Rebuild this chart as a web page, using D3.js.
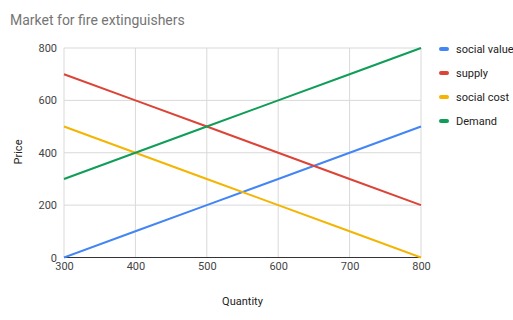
<!DOCTYPE html>
<html>
<head>
<meta charset="utf-8">
<script src="https://cdn.jsdelivr.net/npm/d3@7"></script>
<style>
  body { margin: 0; background: #fff; }
  text { font-family: Roboto, Arial, sans-serif; }
</style>
</head>
<body>
<div id="chart"></div>
<script>
// data
var quantity = [300, 400, 500, 600, 700, 800];
var socialValue = [0, 100, 200, 300, 400, 500];
var supply = [700, 600, 500, 400, 300, 200];
var socialCost = [500, 400, 300, 200, 100, 0];
var demand = [300, 400, 500, 600, 700, 800];
var seriesNames = ["social value", "supply", "social cost", "Demand"];
var seriesColors = ["#4285F4", "#DB4437", "#F4B400", "#0F9D58"];
var yTicks = [0, 200, 400, 600, 800];

var w = 513, h = 320;
var plotLeft = 64, plotRight = 421, plotTop = 48, plotBottom = 257.5;

var svg = d3.select("#chart").append("svg")
  .attr("width", w)
  .attr("height", h);

svg.append("rect").attr("width", w).attr("height", h).attr("fill", "#fff");

var x = d3.scaleLinear().domain([300, 800]).range([plotLeft, plotRight]);
var y = d3.scaleLinear().domain([0, 800]).range([plotBottom, plotTop]);

// gridlines
svg.append("g").selectAll("line")
  .data(yTicks.slice(1))
  .enter().append("line")
  .attr("x1", plotLeft).attr("x2", plotRight)
  .attr("y1", function(d) { return y(d); })
  .attr("y2", function(d) { return y(d); })
  .attr("stroke", "#d9d9d9").attr("stroke-width", 1);

svg.append("g").selectAll("line")
  .data(quantity)
  .enter().append("line")
  .attr("y1", plotTop).attr("y2", plotBottom)
  .attr("x1", function(d) { return x(d); })
  .attr("x2", function(d) { return x(d); })
  .attr("stroke", "#d9d9d9").attr("stroke-width", 1);

// baseline
svg.append("line")
  .attr("x1", plotLeft).attr("x2", plotRight)
  .attr("y1", y(0)).attr("y2", y(0))
  .attr("stroke", "#333").attr("stroke-width", 1);

// tick labels
var yAxis = d3.axisLeft(y).tickValues(yTicks).tickSize(0).tickPadding(6);
var gy = svg.append("g").attr("transform", "translate(" + (plotLeft - 1) + ",0)").call(yAxis);
gy.select(".domain").remove();
gy.selectAll("text").attr("font-size", 11).attr("fill", "#444").attr("font-family", "Roboto, Arial, sans-serif");

var xAxis = d3.axisBottom(x).tickValues(quantity).tickSize(0).tickPadding(5);
var gx = svg.append("g").attr("transform", "translate(0," + plotBottom + ")").call(xAxis);
gx.select(".domain").remove();
gx.selectAll("text").attr("font-size", 11).attr("fill", "#444").attr("font-family", "Roboto, Arial, sans-serif");

// lines
var allValues = [socialValue, supply, socialCost, demand];
var line = d3.line()
  .x(function(d, i) { return x(quantity[i]); })
  .y(function(d) { return y(d); });

allValues.forEach(function(vals, k) {
  svg.append("path")
    .datum(vals)
    .attr("d", line)
    .attr("fill", "none")
    .attr("stroke", seriesColors[k])
    .attr("stroke-width", 2);
});

// title and axis titles
svg.append("text")
  .attr("x", 10).attr("y", 25)
  .attr("font-size", 14).attr("fill", "#757575")
  .text("Market for fire extinguishers");

svg.append("text")
  .attr("x", (plotLeft + plotRight) / 2).attr("y", 305)
  .attr("text-anchor", "middle")
  .attr("font-size", 11).attr("fill", "#222")
  .text("Quantity");

svg.append("text")
  .attr("transform", "translate(22,152) rotate(-90)")
  .attr("text-anchor", "middle")
  .attr("font-size", 11).attr("fill", "#222")
  .text("Price");

// legend
var legend = svg.append("g").selectAll("g")
  .data(seriesNames)
  .enter().append("g")
  .attr("transform", function(d, i) { return "translate(439," + (49 + i * 24) + ")"; });

legend.append("rect")
  .attr("x", 0).attr("y", -2)
  .attr("width", 10).attr("height", 4).attr("rx", 2)
  .attr("fill", function(d, i) { return seriesColors[i]; });

legend.append("text")
  .attr("x", 17).attr("y", 4)
  .attr("font-size", 11).attr("fill", "#222")
  .text(function(d) { return d; });
</script>
</body>
</html>
